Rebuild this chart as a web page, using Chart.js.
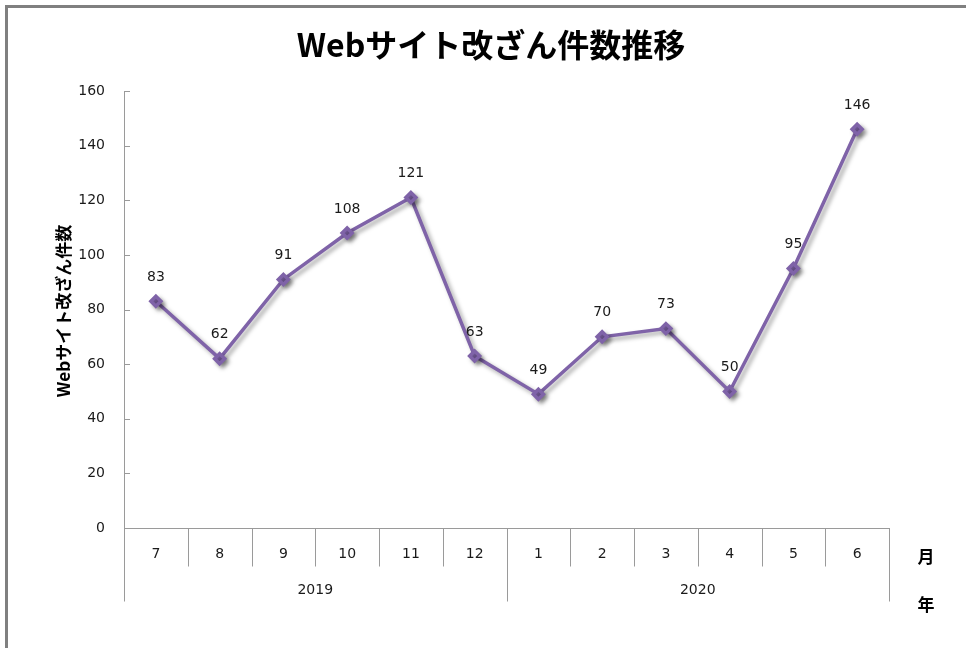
<!DOCTYPE html>
<html>
<head>
<meta charset="utf-8">
<script src="https://cdn.jsdelivr.net/npm/chart.js@4.4.1/dist/chart.umd.min.js"></script>
<style>
  html, body { margin: 0; padding: 0; background: #fff; }
  canvas { display: block; }
</style>
</head>
<body>
<canvas id="c" width="966" height="648"></canvas>
<script>
const chartTitle = 'Webサイト改ざん件数推移';
const yAxisTitle = 'Webサイト改ざん件数';
const months = ['7', '8', '9', '10', '11', '12', '1', '2', '3', '4', '5', '6'];
const years = ['2019', '2020'];
const yearSpans = [6, 6];          // number of months in each year group
const counts = [83, 62, 91, 108, 121, 63, 49, 70, 73, 50, 95, 146];
const yTicks = [0, 20, 40, 60, 80, 100, 120, 140, 160];
const monthUnit = '月';
const yearUnit = '年';

const LINE = '#7F63A8';
const AXIS = '#9a9a9a';
const TXT = '#1a1a1a';
const NUMFONT = '14px "DejaVu Sans", Verdana, sans-serif';
const CJK = '"Noto Sans CJK JP", "Noto Sans", sans-serif';

const decor = {
  id: 'decor',
  beforeDatasetsDraw(chart) {
    const ctx = chart.ctx;
    ctx.save();
    ctx.shadowColor = 'rgba(0,0,0,0.35)';
    ctx.shadowOffsetX = 3;
    ctx.shadowOffsetY = 3;
    ctx.shadowBlur = 4;
  },
  afterDatasetsDraw(chart) {
    chart.ctx.restore();
  },
  afterDraw(chart) {
    const ctx = chart.ctx;
    const x = chart.scales.x, y = chart.scales.y;
    const area = chart.chartArea;
    const bottom = Math.round(area.bottom) + 0.5;
    ctx.save();
    // frame
    ctx.fillStyle = '#808080';
    ctx.fillRect(5, 5, 966, 3);
    ctx.fillRect(5, 5, 3, 648);
    // title
    ctx.fillStyle = '#000';
    ctx.font = 'bold 32px ' + CJK;
    ctx.textAlign = 'center';
    ctx.textBaseline = 'middle';
    ctx.fillText(chartTitle, 491, 45);
    // y axis title
    ctx.save();
    ctx.translate(64, 311);
    ctx.rotate(-Math.PI / 2);
    ctx.font = 'bold 17px ' + CJK;
    ctx.fillText(yAxisTitle, 0, 0);
    ctx.restore();
    // inside y ticks
    ctx.strokeStyle = AXIS;
    ctx.lineWidth = 1;
    ctx.beginPath();
    yTicks.forEach(v => {
      const py = Math.round(y.getPixelForValue(v)) + 0.5;
      ctx.moveTo(area.left, py);
      ctx.lineTo(area.left + 6, py);
    });
    // month dividers and year separators
    const half = (x.getPixelForValue(1) - x.getPixelForValue(0)) / 2;
    let idx = 0;
    const yearBounds = [0];
    yearSpans.forEach(s => { idx += s; yearBounds.push(idx); });
    for (let i = 0; i <= months.length; i++) {
      const px = Math.round(x.getPixelForValue(Math.min(i, months.length - 1)) + (i === months.length ? half : -half)) + 0.5;
      const isYear = yearBounds.includes(i);
      ctx.moveTo(px, bottom);
      ctx.lineTo(px, isYear ? bottom + 73 : bottom + 38);
    }
    ctx.stroke();
    // year labels
    ctx.fillStyle = TXT;
    ctx.font = NUMFONT;
    let start = 0;
    years.forEach((yr, k) => {
      const end = start + yearSpans[k] - 1;
      const cx = (x.getPixelForValue(start) + x.getPixelForValue(end)) / 2;
      ctx.fillText(yr, cx, bottom + 62);
      start += yearSpans[k];
    });
    // unit labels
    ctx.fillStyle = '#000';
    ctx.font = 'bold 17px ' + CJK;
    ctx.fillText(monthUnit, 926, 557);
    ctx.fillText(yearUnit, 926, 605);
    // data labels
    ctx.fillStyle = TXT;
    ctx.font = NUMFONT;
    const meta = chart.getDatasetMeta(0);
    meta.data.forEach((pt, i) => {
      ctx.fillText(String(counts[i]), pt.x, pt.y - 24);
    });
    ctx.restore();
  }
};

new Chart(document.getElementById('c'), {
  type: 'line',
  data: {
    labels: months,
    datasets: [{
      data: counts,
      borderColor: LINE,
      backgroundColor: LINE,
      borderWidth: 3.5,
      pointStyle: 'rectRot',
      pointRadius: 5,
      pointHoverRadius: 5,
      pointBackgroundColor: LINE,
      pointBorderColor: LINE,
      tension: 0,
      fill: false
    }]
  },
  options: {
    responsive: false,
    animation: false,
    devicePixelRatio: 1,
    events: [],
    layout: { padding: { left: 0, right: 77, top: 91, bottom: 0 } },
    plugins: {
      legend: { display: false },
      tooltip: { enabled: false },
      title: { display: false }
    },
    scales: {
      x: {
        type: 'category',
        offset: true,
        grid: { display: false, drawTicks: false },
        border: { display: true, color: AXIS, width: 1 },
        ticks: { color: TXT, font: { family: '"DejaVu Sans", Verdana, sans-serif', size: 14 }, padding: 18, maxRotation: 0, autoSkip: false },
        afterFit(scale) { scale.height = 120; }
      },
      y: {
        min: 0,
        max: 160,
        afterBuildTicks(scale) { scale.ticks = yTicks.map(v => ({ value: v })); },
        grid: { display: false, drawTicks: false },
        border: { display: true, color: AXIS, width: 1 },
        ticks: { color: TXT, font: { family: '"DejaVu Sans", Verdana, sans-serif', size: 14 }, padding: 19 },
        afterFit(scale) { scale.width = 124; }
      }
    }
  },
  plugins: [decor]
});
</script>
</body>
</html>
